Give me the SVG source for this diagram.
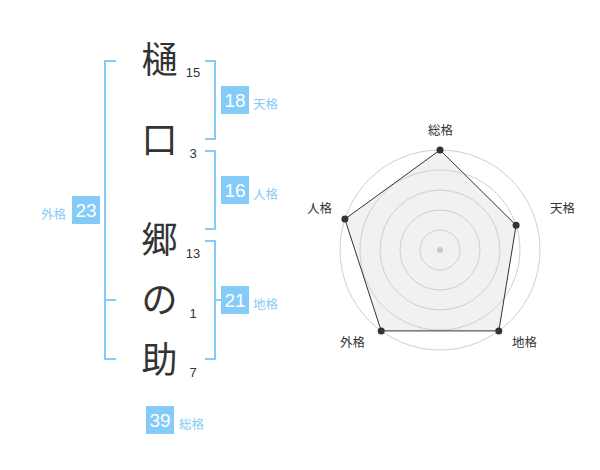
<svg xmlns="http://www.w3.org/2000/svg" width="600" height="470" viewBox="0 0 600 470">
<style>
.br{fill:none;stroke:#85cbf7;stroke-width:2}
.kanji{font-family:"Noto Sans CJK JP","Noto Sans CJK SC",sans-serif;font-size:36px;fill:#333;text-anchor:middle}
.num{font-family:"Liberation Sans",Arial,sans-serif;font-size:13px;fill:#333;text-anchor:middle}
.box{fill:#85cbf7}
.bnum{font-family:"Liberation Sans",Arial,sans-serif;font-size:19px;fill:#fff;text-anchor:middle}
.blab{font-family:"Noto Sans CJK JP",sans-serif;font-size:12.5px;fill:#85cbf7}
.ring{fill:none;stroke:#cfcfcf;stroke-width:1}
.rlab{font-family:"Noto Sans CJK JP",sans-serif;font-size:12.5px;fill:#333;text-anchor:middle}
.dot{fill:#333}
</style>
<rect width="600" height="470" fill="#fff"/>
<g id="connectors">
<path class="br" d="M116,61 H105 V359 H116 M105,300 H116"/>
<path class="br" d="M205,61 H215 V139 H205"/>
<path class="br" d="M205,151 H215 V229 H205"/>
<path class="br" d="M205,241 H215 V359 H205 M215,300 H221"/>
</g>
<g id="name">
<text class="kanji" x="159.5" y="73">樋</text>
<text class="num" x="193" y="77">15</text>
<text class="kanji" x="159.5" y="153">口</text>
<text class="num" x="193" y="158">3</text>
<text class="kanji" x="159.5" y="253">郷</text>
<text class="num" x="193" y="258">13</text>
<text class="kanji" x="159.5" y="313">の</text>
<text class="num" x="193" y="318">1</text>
<text class="kanji" x="159.5" y="373">助</text>
<text class="num" x="193" y="377">7</text>
</g>
<g id="tenkaku">
<rect class="box" x="221" y="86" width="28" height="28"/>
<text class="bnum" x="235" y="107">18</text>
<text class="blab" x="253" y="109">天格</text>
</g>
<g id="jinkaku">
<rect class="box" x="221" y="176" width="28" height="28"/>
<text class="bnum" x="235" y="197">16</text>
<text class="blab" x="253" y="199">人格</text>
</g>
<g id="chikaku">
<rect class="box" x="221" y="286" width="28" height="28"/>
<text class="bnum" x="235" y="307">21</text>
<text class="blab" x="253" y="309">地格</text>
</g>
<g id="gaikaku">
<rect class="box" x="72" y="196" width="28" height="28"/>
<text class="bnum" x="86" y="217">23</text>
<text class="blab" x="66" y="219" text-anchor="end">外格</text>
</g>
<g id="soukaku">
<rect class="box" x="146" y="406" width="28" height="28"/>
<text class="bnum" x="160" y="427">39</text>
<text class="blab" x="179" y="429">総格</text>
</g>
<g id="radar">
<polygon points="440,150 516.1,225.3 498.8,330.9 381.2,330.9 344.9,219.1" fill="#f1f1f1" stroke="none"/>
<circle class="ring" cx="440" cy="250" r="100"/>
<circle class="ring" cx="440" cy="250" r="80"/>
<circle class="ring" cx="440" cy="250" r="60"/>
<circle class="ring" cx="440" cy="250" r="40"/>
<circle class="ring" cx="440" cy="250" r="20"/>
<circle cx="440" cy="250" r="3" fill="#c8c8c8"/>
<polygon points="440,150 516.1,225.3 498.8,330.9 381.2,330.9 344.9,219.1" fill="none" stroke="#333" stroke-width="1"/>
<circle class="dot" cx="440" cy="150" r="3.5"/>
<circle class="dot" cx="516.1" cy="225.3" r="3.5"/>
<circle class="dot" cx="498.8" cy="330.9" r="3.5"/>
<circle class="dot" cx="381.2" cy="330.9" r="3.5"/>
<circle class="dot" cx="344.9" cy="219.1" r="3.5"/>
<text class="rlab" x="440.5" y="135">総格</text>
<text class="rlab" x="562.5" y="213">天格</text>
<text class="rlab" x="524.5" y="347">地格</text>
<text class="rlab" x="352.5" y="347">外格</text>
<text class="rlab" x="319.5" y="213">人格</text>
</g>
</svg>
